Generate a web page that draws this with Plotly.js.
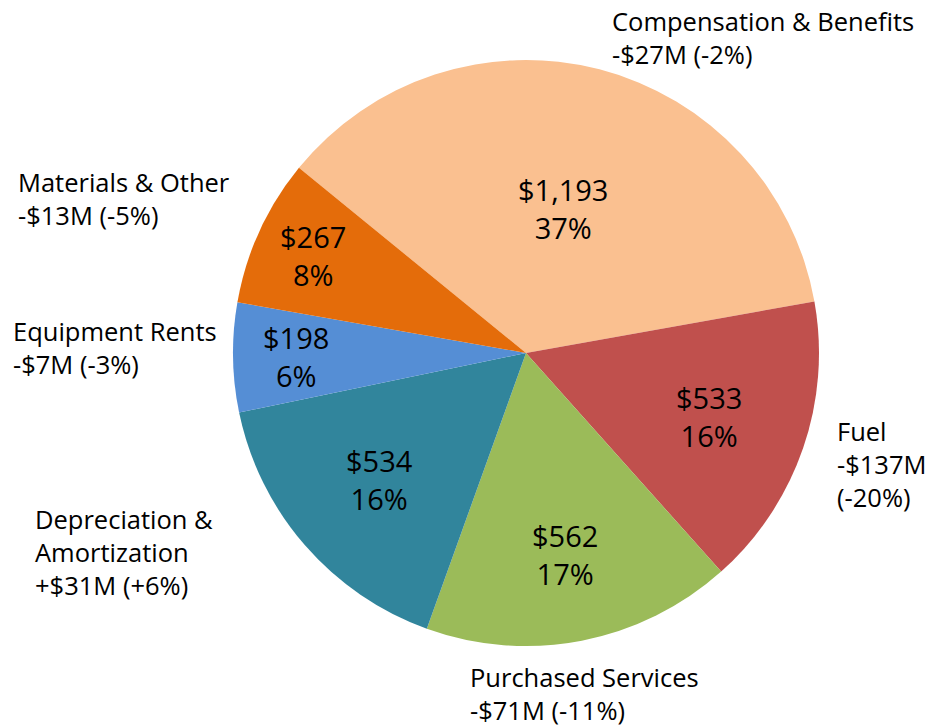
<!DOCTYPE html>
<html>
<head>
<meta charset="utf-8">
<script src="https://cdn.plot.ly/plotly-3.0.1.min.js"></script>
<style>html,body{margin:0;padding:0;background:#fff;}#chart{width:930px;height:726px;}</style>
</head>
<body>
<div id="chart"></div>
<script>
const categories = ["Compensation & Benefits", "Fuel", "Purchased Services", "Depreciation & Amortization", "Equipment Rents", "Materials & Other"];
const values = [1193, 533, 562, 534, 198, 267];
const valueLabels = ["$1,193", "$533", "$562", "$534", "$198", "$267"];
const shareLabels = ["37%", "16%", "17%", "16%", "6%", "8%"];
const changeLabels = [
  "Compensation & Benefits<br>-$27M (-2%)",
  "Fuel<br>-$137M<br>(-20%)",
  "Purchased Services<br>-$71M (-11%)",
  "Depreciation &<br>Amortization<br>+$31M (+6%)",
  "Equipment Rents<br>-$7M (-3%)",
  "Materials & Other<br>-$13M (-5%)"
];
const colors = ["#FAC090", "#C0504D", "#9BBB59", "#31859C", "#558ED5", "#E46C0A"];

// ---- layout / style settings ----
const W = 930, H = 726;
const PIE_LEFT = 233, PIE_RIGHT = 819, PIE_TOP = 60, PIE_BOTTOM = 646;
const ROTATION = -50.8;
// how far out (fraction of radius) each inside label sits
const insideRadiusFrac = [0.51, 0.66, 0.70, 0.66, 0.785, 0.80];
// outside label blocks: left x and block centre y, in pixels
const labelPos = [[610, 38], [835, 464], [468, 693], [33, 552], [11, 347], [16, 199]];

const FONT = "'Open Sans', 'Noto Sans', sans-serif";

const domX = [PIE_LEFT / W, PIE_RIGHT / W];
const domY = [1 - PIE_BOTTOM / H, 1 - PIE_TOP / H];

const trace = {
  type: "pie",
  labels: categories,
  values: values,
  textinfo: "none",
  sort: false,
  direction: "clockwise",
  rotation: ROTATION,
  marker: {colors: colors, line: {width: 0}},
  domain: {x: domX, y: domY},
  showlegend: false,
  hoverinfo: "none"
};

const annotations = [];

// inside labels placed at each slice's mid-angle, derived from the values
const total = values.reduce((a, b) => a + b, 0);
const cxPx = (PIE_LEFT + PIE_RIGHT) / 2, cyPx = (PIE_TOP + PIE_BOTTOM) / 2;
const R = Math.min(PIE_RIGHT - PIE_LEFT, PIE_BOTTOM - PIE_TOP) / 2;
let acc = 0;
values.forEach((v, i) => {
  const mid = (ROTATION + (acc + v / 2) / total * 360) * Math.PI / 180;
  acc += v;
  const r = insideRadiusFrac[i] * R;
  const px = cxPx + r * Math.sin(mid);
  const py = cyPx - r * Math.cos(mid);
  annotations.push({
    text: valueLabels[i] + "<br>" + shareLabels[i],
    xref: "paper", yref: "paper",
    x: px / W, y: 1 - py / H,
    xanchor: "center", yanchor: "middle", align: "center",
    showarrow: false,
    font: {family: FONT, size: 29, color: "#000"}
  });
});

// outside change labels
changeLabels.forEach((t, i) => {
  annotations.push({
    text: t,
    xref: "paper", yref: "paper",
    x: labelPos[i][0] / W, y: 1 - labelPos[i][1] / H,
    xanchor: "left", yanchor: "middle", align: "left",
    showarrow: false,
    font: {family: FONT, size: 25.5, color: "#000"}
  });
});

Plotly.newPlot("chart", [trace], {
  width: W, height: H,
  margin: {l: 0, r: 0, t: 0, b: 0},
  paper_bgcolor: "#fff",
  annotations: annotations
}, {staticPlot: true});
</script>
</body>
</html>
